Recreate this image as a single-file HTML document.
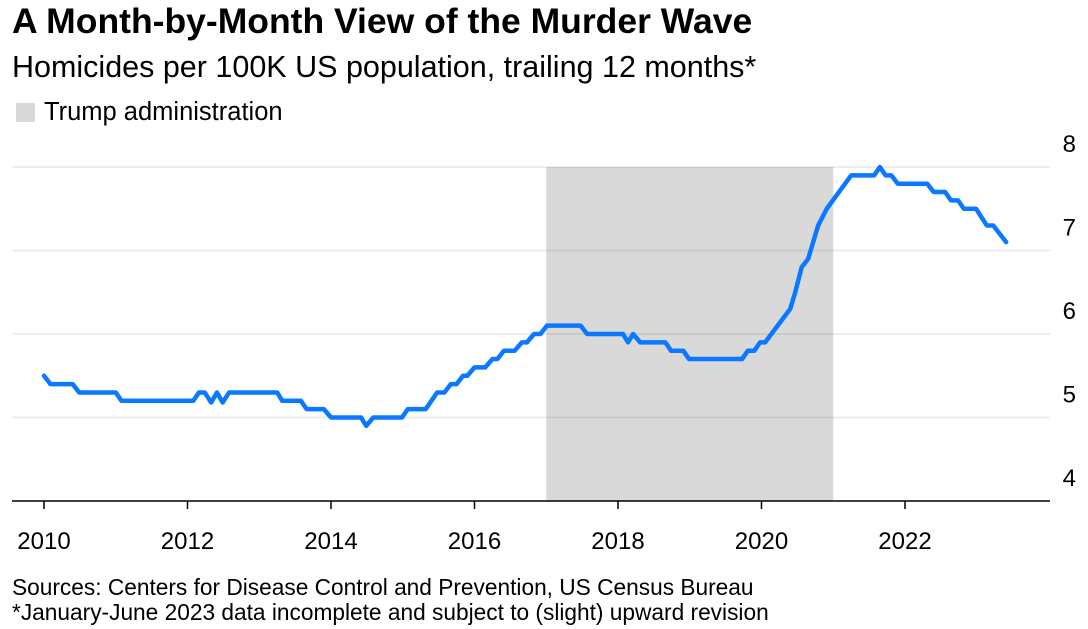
<!DOCTYPE html>
<html><head><meta charset="utf-8"><style>
body{margin:0;background:#fff;font-family:"Liberation Sans",Arial,sans-serif;}
#wrap{position:relative;width:1088px;height:629px;overflow:hidden;}
.t{position:absolute;left:12px;white-space:nowrap;color:#000;line-height:1.15;}
</style></head><body>
<div id="wrap">
<div class="t" style="top:1px;font-size:35.5px;font-weight:bold;">A Month-by-Month View of the Murder Wave</div>
<div class="t" style="top:50px;font-size:30.5px;">Homicides per 100K US population, trailing 12 months*</div>
<div class="t" style="top:98px;font-size:25.5px;"><span style="display:inline-block;width:19px;height:19px;background:#d9d9d9;vertical-align:-2px;margin-right:9px;margin-left:4px"></span>Trump administration</div>
<svg id="c" width="1088" height="629" style="position:absolute;left:0;top:0"></svg>
<div class="t" style="top:574px;font-size:22.7px;">Sources: Centers for Disease Control and Prevention, US Census Bureau</div>
<div class="t" style="top:599px;font-size:22.7px;">*January-June 2023 data incomplete and subject to (slight) upward revision</div>
</div>
<script>
const years=[2010.00,2010.09,2010.40,2010.49,2011.00,2011.08,2012.08,2012.16,2012.24,2012.33,2012.41,2012.49,2012.58,2013.25,2013.32,2013.58,2013.66,2013.90,2014.00,2014.42,2014.49,2014.59,2014.99,2015.07,2015.32,2015.48,2015.58,2015.67,2015.75,2015.84,2015.90,2016.00,2016.15,2016.25,2016.32,2016.41,2016.56,2016.66,2016.73,2016.83,2016.92,2017.01,2017.48,2017.57,2018.07,2018.14,2018.21,2018.31,2018.66,2018.74,2018.91,2018.99,2019.73,2019.81,2019.90,2019.98,2020.05,2020.40,2020.47,2020.56,2020.65,2020.79,2020.91,2021.25,2021.57,2021.65,2021.73,2021.81,2021.90,2022.31,2022.40,2022.56,2022.64,2022.74,2022.82,2022.99,2023.14,2023.23,2023.41];
const values=[5.5,5.4,5.4,5.3,5.3,5.2,5.2,5.3,5.3,5.18,5.3,5.18,5.3,5.3,5.2,5.2,5.1,5.1,5.0,5.0,4.9,5.0,5.0,5.1,5.1,5.3,5.3,5.4,5.4,5.5,5.5,5.6,5.6,5.7,5.7,5.8,5.8,5.9,5.9,6.0,6.0,6.1,6.1,6.0,6.0,5.9,6.0,5.9,5.9,5.8,5.8,5.7,5.7,5.8,5.8,5.9,5.9,6.3,6.5,6.8,6.9,7.3,7.5,7.9,7.9,8.0,7.9,7.9,7.8,7.8,7.7,7.7,7.6,7.6,7.5,7.5,7.3,7.3,7.1];
const yTicks=[4,5,6,7,8];
const xTicks=[2010,2012,2014,2016,2018,2020,2022];
const shade=[2017,2021];
const X=v=>44+(v-2010)*71.75, Y=v=>501-(v-4)*83.5;
const s=document.getElementById('c'),N='http://www.w3.org/2000/svg';
function mk(t,a){const e=document.createElementNS(N,t);for(const k in a)e.setAttribute(k,a[k]);s.appendChild(e);return e;}
const sh=mk('rect',{x:X(shade[0]),y:Y(8),width:X(shade[1])-X(shade[0]),height:Y(4)-Y(8),fill:'#d9d9d9'});


yTicks.forEach(v=>{
 if(v>4){const g=mk('line',{x1:12,x2:1050,y1:Y(v),y2:Y(v),stroke:'#000','stroke-opacity':0.07,'stroke-width':2});
 
 }
 const t=mk('text',{x:1076,y:Y(v)-15,'text-anchor':'end','font-size':24,fill:'#000','font-family':'Liberation Sans, sans-serif'});t.textContent=v;
 
 
});
const base=mk('line',{x1:12,x2:1050,y1:Y(4),y2:Y(4),stroke:'#000','stroke-width':1.5});


xTicks.forEach(v=>{
 const l=mk('line',{x1:X(v),x2:X(v),y1:Y(4),y2:Y(4)+8,stroke:'#000','stroke-width':1.5});
 
 
 const t=mk('text',{x:X(v),y:549,'text-anchor':'middle','font-size':24,fill:'#000','font-family':'Liberation Sans, sans-serif'});t.textContent=v;
 
 
});
const p=mk('polyline',{points:years.map((y,i)=>X(y)+','+Y(values[i])).join(' '),fill:'none',stroke:'#0a78ff','stroke-width':4.5,'stroke-linejoin':'round','stroke-linecap':'round'});


</script>
</body></html>
